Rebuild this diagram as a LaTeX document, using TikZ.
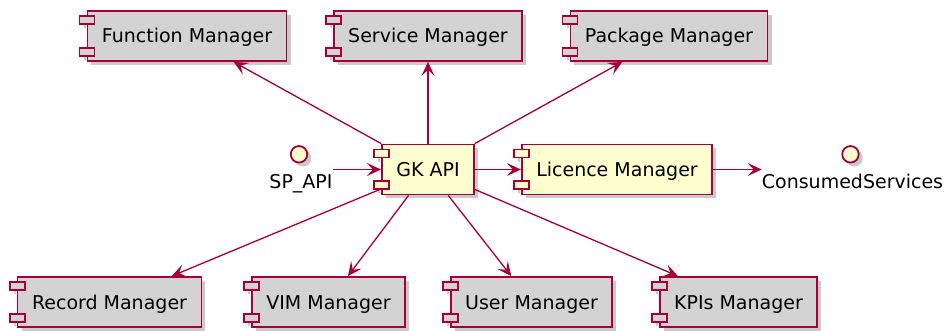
\documentclass[tikz,border=0pt]{standalone}
\usepackage{fontspec}
\setmainfont{DejaVu Sans}
\usetikzlibrary{arrows.meta,shadows}
\definecolor{umlred}{HTML}{A80036}
\definecolor{umlgray}{HTML}{D3D3D3}
\definecolor{umlyellow}{HTML}{FEFECE}
\definecolor{shadecol}{HTML}{8A8A8A}

\tikzset{
  umlfont/.style={font=\fontsize{19}{22}\selectfont},
  softshadow/.style={drop shadow={shadow xshift=4pt, shadow yshift=-4pt, opacity=0.45, fill=shadecol}},
  compbox/.style={rectangle, draw=umlred, line width=1.8pt, minimum height=50pt,
    inner xsep=14.5pt, inner ysep=0pt, text height=14pt, text depth=0pt,
    umlfont, softshadow},
  tabbox/.style={draw=umlred, line width=1.8pt},
  tabshade/.style={fill=shadecol, opacity=0.45},
  iface/.style={rectangle, inner sep=0pt, text height=42pt, text depth=4pt, umlfont},
  ifacecirc/.style={circle, draw=umlred, line width=1.8pt, fill=umlyellow,
    minimum size=16.5pt, inner sep=0pt, softshadow},
  conn/.style={draw=umlred, line width=1.3pt,
    -{Stealth[length=14pt, width=13pt, inset=6pt]}}
}

% component box with the two small tabs on its left side
\newcommand\umlcomp[5]{%
  \node[compbox, fill=#4] (#1) at (#2,#3) {#5};
  \fill[tabshade] ([xshift=-3pt,yshift=-10pt]#1.north west) rectangle ++(2,8);
  \fill[tabshade] ([xshift=-3pt,yshift=10pt]#1.south west) rectangle ++(2,8);
  \draw[tabbox, fill=#4] ([xshift=-7pt,yshift=-6pt]#1.north west) rectangle ++(15,8);
  \draw[tabbox, fill=#4] ([xshift=-7pt,yshift=14pt]#1.south west) rectangle ++(15,8);
}

\begin{document}
\begin{tikzpicture}[x=1pt, y=-1pt]
  \useasboundingbox[fill=white] (0,0) rectangle (946,331);

  % upper row
  \umlcomp{fm}{187}{36}{umlgray}{Function Manager}
  \umlcomp{sm}{428}{36}{umlgray}{Service Manager}
  \umlcomp{pm}{669}{36}{umlgray}{Package Manager}

  % middle row
  \umlcomp{gk}{428}{169.5}{umlyellow}{GK API}
  \umlcomp{lic}{617}{169.5}{umlyellow}{Licence Manager}

  % interfaces
  \node[iface] (spapi) at (301,169.5) {SP\_API};
  \node[ifacecirc] (spapi-ic) at ([xshift=-2pt,yshift=-8pt]spapi.north) {};
  \node[iface] (cs) at (852.5,169.5) {ConsumedServices};
  \node[ifacecirc] (cs-ic) at ([xshift=-2pt,yshift=-8pt]cs.north) {};

  % lower row
  \umlcomp{rec}{109.5}{302}{umlgray}{Record Manager}
  \umlcomp{vim}{328.5}{302}{umlgray}{VIM Manager}
  \umlcomp{um}{531.5}{302}{umlgray}{User Manager}
  \umlcomp{kpi}{738.5}{302}{umlgray}{KPIs Manager}

  % connectors
  \draw[conn] (spapi) -- (gk);
  \draw[conn] (gk) -- (lic);
  \draw[conn] (lic) -- (cs);
  \draw[conn] (gk) -- (fm);
  \draw[conn] (gk) -- (sm);
  \draw[conn] (gk) -- (pm);
  \draw[conn] (gk) -- (rec);
  \draw[conn] (gk) -- (vim);
  \draw[conn] (gk) -- (um);
  \draw[conn] (gk) -- (kpi);
\end{tikzpicture}
\end{document}
